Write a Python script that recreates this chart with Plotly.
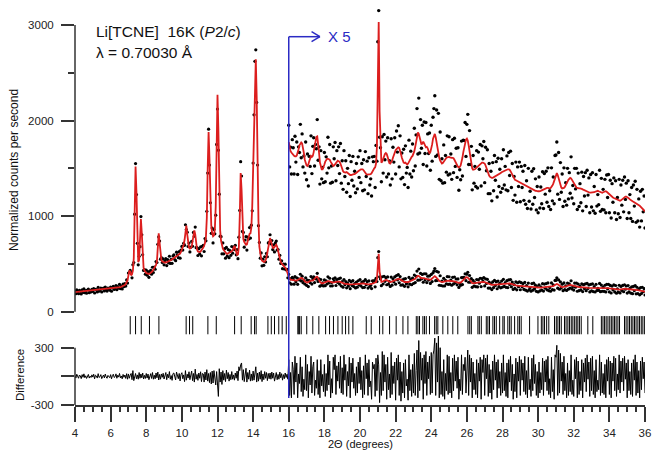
import numpy as np
import plotly.graph_objects as go

# ---------------- data ----------------
TWO_THETA_START = 4.0      # degrees
TWO_THETA_STEP = 0.05      # degrees
SCALE_START = 16.0         # data beyond this angle are also shown x5
SCALE_FACTOR = 5

# calculated profile (counts/s), one row per degree, 4.00 .. 36.00
calc_counts = [
    205, 206, 206, 207, 208, 209, 209, 210, 211, 212, 212, 213, 214, 215, 215, 216, 217, 218, 218, 219,
    220, 221, 222, 223, 224, 225, 226, 227, 228, 229, 230, 231, 232, 233, 234, 235, 236, 237, 238, 239,
    240, 241, 242, 244, 245, 247, 248, 250, 252, 254, 256, 258, 261, 264, 268, 273, 280, 290, 305, 330,
    380, 430, 420, 380, 390, 430, 560, 1000, 1520, 1250, 700, 520, 540, 700, 970, 820, 560, 460, 430, 415,
    405, 400, 395, 395, 400, 405, 415, 425, 440, 455, 470, 490, 530, 660, 820, 720, 580, 540, 525, 520,
    518, 515, 515, 518, 522, 526, 530, 535, 540, 548, 555, 560, 566, 572, 578, 584, 590, 598, 608, 625,
    645, 670, 700, 750, 850, 900, 810, 700, 670, 660, 665, 680, 730, 800, 850, 810, 700, 650, 630, 625,
    625, 630, 640, 655, 670, 690, 720, 780, 980, 1500, 1880, 1600, 1100, 900, 820, 790, 800, 860, 1100, 1700,
    2270, 1900, 1150, 850, 740, 690, 660, 645, 630, 615, 608, 606, 610, 615, 620, 625, 632, 642, 660, 690,
    660, 615, 595, 600, 680, 1000, 1450, 1280, 880, 760, 730, 720, 700, 705, 740, 790, 815, 820, 880, 1100,
    1500, 2100, 2550, 2640, 2250, 1500, 950, 680, 590, 555, 535, 525, 520, 525, 540, 570, 620, 690, 750, 770,
    740, 700, 670, 665, 675, 695, 700, 680, 630, 580, 545, 520, 505, 490, 480, 472, 462, 450, 420, 385,
    355, 343, 336, 333, 330, 328, 326, 325, 325, 327, 332, 340, 348, 352, 354, 352, 345, 332, 318, 310,
    306, 305, 308, 315, 322, 326, 324, 326, 334, 345, 358, 366, 367, 355, 333, 312, 302, 298, 298, 302,
    308, 314, 318, 320, 320, 319, 318, 314, 310, 306, 305, 306, 309, 312, 315, 316, 315, 314, 310, 304,
    298, 294, 292, 291, 291, 292, 290, 288, 287, 286, 286, 287, 287, 288, 288, 289, 290, 292, 294, 296,
    297, 298, 298, 298, 296, 293, 290, 288, 287, 287, 287, 287, 288, 290, 294, 298, 300, 302, 310, 345,
    520, 606, 420, 335, 312, 314, 320, 326, 330, 332, 330, 324, 316, 311, 310, 312, 316, 322, 328, 334,
    338, 340, 342, 344, 343, 338, 330, 322, 316, 312, 311, 312, 310, 308, 310, 314, 318, 322, 324, 326,
    330, 336, 345, 358, 370, 375, 372, 362, 352, 350, 352, 356, 352, 346, 344, 345, 342, 336, 332, 334,
    340, 350, 362, 370, 372, 365, 352, 340, 330, 322, 316, 312, 310, 311, 314, 318, 321, 322, 323, 324,
    324, 323, 322, 322, 322, 321, 318, 314, 310, 306, 303, 302, 303, 306, 312, 322, 334, 346, 356, 360,
    362, 358, 348, 334, 320, 308, 300, 297, 297, 298, 300, 302, 304, 306, 308, 310, 311, 312, 312, 311,
    310, 306, 300, 294, 289, 285, 282, 280, 280, 280, 281, 282, 283, 284, 285, 286, 287, 288, 290, 292,
    293, 294, 295, 296, 297, 298, 298, 298, 297, 294, 290, 285, 281, 278, 276, 275, 274, 273, 272, 271,
    270, 269, 268, 266, 265, 264, 263, 262, 261, 260, 259, 258, 257, 256, 255, 254, 254, 253, 253, 252,
    252, 252, 252, 253, 254, 255, 256, 257, 258, 259, 259, 259, 258, 258, 259, 261, 264, 268, 274, 282,
    288, 290, 286, 278, 270, 264, 260, 258, 258, 259, 261, 264, 268, 272, 276, 279, 280, 279, 276, 272,
    268, 265, 262, 260, 259, 258, 258, 258, 258, 257, 256, 255, 254, 253, 252, 251, 250, 250, 249, 249,
    249, 249, 249, 250, 251, 252, 253, 253, 252, 251, 250, 249, 249, 250, 251, 252, 252, 251, 249, 247,
    245, 243, 241, 240, 239, 238, 237, 236, 235, 234, 233, 232, 232, 233, 235, 237, 239, 240, 241, 241,
    240, 239, 237, 235, 233, 232, 231, 230, 229, 228, 227, 226, 225, 224, 222, 220, 218, 216, 214, 212,
    210,
]

# observed - calculated (counts/s, unscaled), same grid
diff_counts = [
    10, -18, 22, -6, -20, 14, 4, -24, 18, -10, 26, -14, 6, -22, 12, 20, -18, 2, -12, 16,
    -8, 22, -26, 12, 4, -18, 28, -12, -4, 18, -24, 8, 14, -16, 24, -6, -20, 10, 2, -14,
    18, -26, 8, 22, -12, -4, 26, -20, 12, -8, 30, -16, 4, -26, 20, -10, 14, -22, 28, -30,
    25, -20, 12, 30, -35, 60, -45, 20, 30, -25, 15, -30, 40, -20, 25, -15, 35, -28, 10, -22,
    30, -18, 24, -35, 15, 28, -22, 40, -30, 12, -26, 35, -15, 45, -38, 20, -30, 25, -10, 32,
    -28, 18, 40, -35, 22, -15, 50, -30, 8, -42, 28, 35, -20, -38, 45, 12, -25, 30, -48, 20,
    38, -25, 15, -55, 60, -40, 22, -18, 48, -35, 10, 55, -45, 30, -60, 75, -30, 20, -42, 35,
    -20, 48, -55, 30, 25, -60, 45, -38, 70, -50, 30, -65, 40, -80, 55, -70, 60, -45, -90, 50,
    -150, -210, 80, -60, 45, -85, 60, -40, 30, -55, 65, -25, 40, -50, 20, -35, 50, -30, 15, -40,
    35, -20, 55, -45, 100, 60, 120, 140, -40, 70, -55, 30, 85, -60, 40, -30, 65, -50, 25, -45,
    55, -40, 70, 100, -60, 35, -50, 45, -30, 60, -55, 25, -35, 50, -20, 40, -45, 30, -25, 35,
    -30, 45, -20, 35, -50, 25, 40, -35, 20, -30, 45, -15, 28, -40, 18, -25, 35, -12, 22, -30,
    35, -40, 8, -45, 30, 15, -38, 42, -12, 28, -45, 5, -15, 40, -32, 20, -42, -6, -28, 45,
    -30, 25, -45, 10, -18, 42, -35, 20, 30, -40, -8, -25, 35, -38, 12, -45, 35, -20, 4, -32,
    25, -42, 6, -30, 45, -18, 32, -45, -5, -35, 40, 14, 45, -38, 22, -10, 30, -25, 42, -35,
    18, -38, 45, -8, 25, -42, 10, -20, 40, -45, 28, -12, 38, -25, 6, -40, 20, -35, 30, -15,
    40, -28, 12, -45, 22, -38, 45, -5, 28, -40, 35, -22, -10, -48, 30, 16, 25, -42, 38, -30,
    45, 24, -55, 8, -40, 52, -30, 45, -12, 25, -48, 40, -28, 5, -45, 50, -38, 22, -15, 30,
    -50, 38, -8, 45, -40, 30, -52, 10, -35, 28, -45, 35, -20, -6, -50, 45, -30, 14, -42, 25,
    -35, 48, -40, 12, 55, -45, 75, -30, 50, -8, 38, -48, 45, -15, 52, -40, 30, -5, 42, -38,
    50, -35, 45, 55, 80, -40, 70, -12, 85, -45, 60, -38, 10, -42, 35, -48, 6, -30, 45, -38,
    42, -35, 8, -45, 38, -30, 45, -10, 32, -25, 40, -48, -6, -30, 45, -38, 25, 12, 40, -35,
    30, 55, -40, 45, -12, 38, -45, 30, -28, 6, -38, 35, -45, 28, -10, 40, -48, 35, 8, 45,
    -40, 38, -5, 45, -42, 25, -35, 14, -48, 32, -28, 45, -8, 30, -45, 35, -25, 10, -40, 28,
    -35, 45, -30, 8, -42, 28, -45, 35, -12, 42, -30, 25, -48, 5, -32, 38, -45, 30, -10, 42,
    -40, 35, -8, 28, -32, 42, -38, 12, -45, 40, -28, -6, -42, 38, -30, 45, -15, 25, -40, 10,
    -45, 30, -35, 8, -28, 38, -40, 32, -12, 35, -30, 42, -38, -5, -45, 40, -32, 14, -48, 45,
    40, 65, -40, 55, -35, 48, -10, 30, -38, 42, -30, 6, -45, 28, -40, 12, -32, 45, -38, -8,
    -42, 35, -5, 40, -45, 32, -38, 10, -30, 35, -45, 28, -12, 38, -32, 45, -6, 30, -42, 38,
    -30, 42, -38, 12, -45, 35, -32, -8, -28, 45, -40, 30, -35, 6, -38, 25, -45, 35, -10, 40,
    -38, 32, -45, 28, -10, 42, -30, 38, -42, 5, -28, 45, -35, 32, -12, 38, -30, 42, -6, 28,
    -45, 35, -30, 10, -38, 28, -42, 35, -8, 45, -40, 30, -35, 12, -45, 32, -28, 40, -5, 30,
    -35,
]

# Bragg reflection positions (degrees 2-theta)
reflections = [
    7.10, 7.40, 7.72, 8.18, 8.71, 10.24, 10.43, 10.61, 11.46, 11.93, 12.96, 13.33,
    13.89, 14.08, 14.17, 14.83, 15.02, 15.20, 15.44, 15.63, 15.86, 16.51, 16.56,
    16.61, 16.70, 17.01, 17.35, 17.69, 18.07, 18.29, 18.51, 18.76, 19.00, 19.19,
    19.37, 19.60, 20.35, 20.63, 21.10, 21.28, 21.66, 22.03, 22.41, 22.69, 23.16,
    23.25, 23.34, 23.53, 23.62, 23.72, 23.90, 24.19, 24.28, 24.37, 24.65, 24.93,
    25.21, 25.49, 26.06, 26.16, 26.25, 26.62, 26.70, 26.81, 27.09, 27.18, 27.27,
    27.46, 27.55, 27.65, 27.84, 28.02, 28.10, 28.30, 28.40, 28.49, 28.68, 28.86,
    28.95, 29.05, 29.52, 29.99, 30.18, 30.27, 30.36, 30.48, 30.60, 30.92, 31.02,
    31.11, 31.20, 31.30, 31.48, 31.57, 31.67, 31.76, 31.86, 31.95, 32.05, 32.14,
    32.23, 32.32, 32.42, 32.79, 33.07, 33.55, 33.64, 33.73, 33.82, 33.92, 34.02,
    34.11, 34.20, 34.29, 34.38, 34.48, 34.57, 34.85, 34.94, 35.04, 35.13, 35.23,
    35.32, 35.41, 35.50, 35.60, 35.69, 35.79, 35.88, 35.98,
]

y_ticks_top = [0, 1000, 2000, 3000]
y_minor_top = [500, 1500, 2500]
y_ticks_diff = [-300, 0, 300]
y_ticktext_diff = ["-300", "", "300"]

# ---------------- derived series ----------------
calc = np.array(calc_counts, dtype=float)
diff = np.array(diff_counts, dtype=float)
two_theta = np.round(TWO_THETA_START + TWO_THETA_STEP * np.arange(len(calc)), 2)
obs = calc + diff
hi = two_theta >= SCALE_START
diff_plot = np.where(hi, diff * SCALE_FACTOR, diff)

FONT = "Liberation Sans, Arial, sans-serif"
RED = "#dc1e1e"
BLUE = "#2b2bc4"
AX = "#333333"

fig = go.Figure()
fig.add_trace(go.Scatter(x=two_theta, y=obs, mode="markers",
                         marker=dict(size=3.2, color="black"), yaxis="y"))
fig.add_trace(go.Scatter(x=two_theta[hi], y=obs[hi] * SCALE_FACTOR, mode="markers",
                         marker=dict(size=3.4, color="black"), yaxis="y"))
fig.add_trace(go.Scatter(x=two_theta, y=calc, mode="lines",
                         line=dict(color=RED, width=1.8), yaxis="y"))
fig.add_trace(go.Scatter(x=two_theta[hi], y=calc[hi] * SCALE_FACTOR, mode="lines",
                         line=dict(color=RED, width=1.8), yaxis="y"))
fig.add_trace(go.Scatter(x=reflections, y=[-141] * len(reflections), mode="markers",
                         marker=dict(symbol="line-ns", size=13,
                                     line=dict(width=1, color="black")), yaxis="y"))
fig.add_trace(go.Scatter(x=two_theta, y=diff_plot, mode="lines",
                         line=dict(color="black", width=1), yaxis="y2"))

tick_font = dict(family=FONT, size=11.5, color="#222")

fig.update_layout(
    width=654, height=451,
    margin=dict(l=75, r=9, t=0, b=46),
    paper_bgcolor="white", plot_bgcolor="white",
    showlegend=False,
    xaxis=dict(domain=[0, 1], range=[4, 36], anchor="y2",
               showline=True, linecolor=AX, linewidth=1.5,
               ticks="outside", ticklen=15, tickwidth=1.5, tickcolor=AX,
               tick0=4, dtick=2, tickfont=tick_font, ticklabelstandoff=1,
               minor=dict(dtick=0.5, tick0=4, ticks="outside", ticklen=5,
                          tickwidth=1.5, tickcolor=AX),
               showgrid=False, zeroline=False),
    yaxis=dict(domain=[0.1728, 0.9877], range=[-243.8, 3209], anchor="x",
               showline=False, ticks="outside", ticklen=13, tickwidth=1.5,
               tickcolor=AX, tickmode="array", tickvals=y_ticks_top,
               tickfont=tick_font, ticklabelstandoff=5,
               minor=dict(tickmode="array", tickvals=y_minor_top, ticks="outside",
                          ticklen=6, tickwidth=1.5, tickcolor=AX),
               showgrid=False, zeroline=False),
    yaxis2=dict(domain=[0, 0.1704], range=[-300, 422.5], anchor="x",
                showline=False, ticks="outside", ticklen=13, tickwidth=1.5,
                tickcolor=AX, tickmode="array", tickvals=y_ticks_diff,
                ticktext=y_ticktext_diff, tickfont=tick_font, ticklabelstandoff=5,
                showgrid=False, zeroline=False),
)

shapes = [
    dict(type="line", xref="paper", yref="y", x0=0, x1=0, y0=0, y1=3000,
         line=dict(color=AX, width=1.5)),
    dict(type="line", xref="paper", yref="y2", x0=0, x1=0, y0=-300, y1=300,
         line=dict(color=AX, width=1.5)),
    dict(type="line", xref="x", yref="paper", x0=16, x1=16, y0=0.0173, y1=0.9094,
         line=dict(color=BLUE, width=1.5)),
    dict(type="line", xref="x", yref="paper", x0=16, x1=17.75, y0=0.9094, y1=0.9094,
         line=dict(color=BLUE, width=1.5)),
    dict(type="line", xref="x", yref="paper", x0=17.28, x1=17.75, y0=0.9217, y1=0.9094,
         line=dict(color=BLUE, width=1.5)),
    dict(type="line", xref="x", yref="paper", x0=17.28, x1=17.75, y0=0.8971, y1=0.9094,
         line=dict(color=BLUE, width=1.5)),
]
fig.update_layout(shapes=shapes)

annotations = [
    dict(text="Li[TCNE]\u00a0 16K (<i>P</i>2/<i>c</i>)", x=5.09, y=2927, xref="x", yref="y",
         xanchor="left", yanchor="middle", showarrow=False,
         font=dict(family=FONT, size=15.5, color="#111")),
    dict(text="\u03bb = 0.70030 \u00c5", x=5.09, y=2717, xref="x", yref="y",
         xanchor="left", yanchor="middle", showarrow=False,
         font=dict(family=FONT, size=15.5, color="#111")),
    dict(text="X 5", x=18.10, y=0.9094, xref="x", yref="paper",
         xanchor="left", yanchor="middle", showarrow=False,
         font=dict(family=FONT, size=15, color=BLUE)),
    dict(text="Normalized counts per second", x=-0.107, y=(405 - 170) / 405,
         xref="paper", yref="paper", textangle=-90, showarrow=False,
         xanchor="center", yanchor="middle",
         font=dict(family=FONT, size=12, color="#111")),
    dict(text="Difference", x=(20 - 75) / 570, y=(405 - 375) / 405,
         xref="paper", yref="paper", textangle=-90, showarrow=False,
         xanchor="center", yanchor="middle",
         font=dict(family=FONT, size=11.5, color="#111")),
    dict(text="2\u0398 (degrees)", x=20, y=(405 - 444.5) / 405,
         xref="x", yref="paper", showarrow=False,
         xanchor="center", yanchor="middle",
         font=dict(family=FONT, size=11, color="#111")),
]
fig.update_layout(annotations=annotations)

fig.write_html("out.html")
